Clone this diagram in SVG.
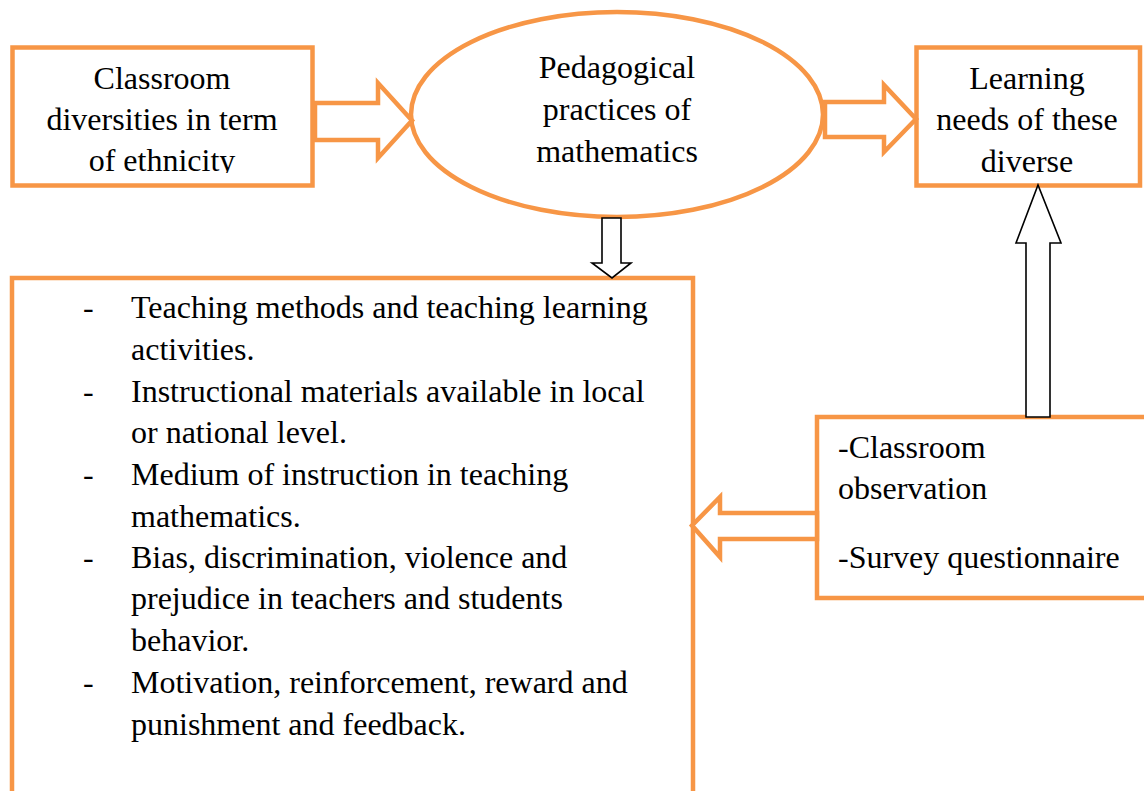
<svg xmlns="http://www.w3.org/2000/svg" width="1144" height="791" viewBox="0 0 1144 791">
  <style>
    .box { fill: #ffffff; stroke: #F79646; stroke-width: 4.5; }
    .orange-arrow { fill: #ffffff; stroke: #F79646; stroke-width: 4.5; stroke-linejoin: miter; }
    .black-arrow { fill: #ffffff; stroke: #000000; stroke-width: 1.6; stroke-linejoin: miter; }
    text { font-family: "Liberation Serif", "Times New Roman", serif; font-size: 32px; fill: #000000; }
    .c { text-anchor: middle; }
  </style>
  <defs>
    <clipPath id="clip-box1">
      <rect x="15" y="50" width="295" height="123"/>
    </clipPath>
  </defs>

  <rect width="1144" height="791" fill="#ffffff"/>

  <!-- Classroom diversities -->
  <g id="node-diversities">
    <rect class="box" x="12.5" y="47.5" width="300" height="138"/>
    <g clip-path="url(#clip-box1)">
      <text class="c" x="162" y="89">Classroom</text>
      <text class="c" x="162" y="130">diversities in term</text>
      <text class="c" x="162" y="171">of ethnicity</text>
    </g>
  </g>

  <!-- Pedagogical practices -->
  <g id="node-pedagogy">
    <ellipse class="box" cx="617" cy="114.5" rx="206" ry="102.5"/>
    <text class="c" x="617" y="78">Pedagogical</text>
    <text class="c" x="617" y="120">practices of</text>
    <text class="c" x="617" y="162">mathematics</text>
  </g>

  <!-- Learning needs -->
  <g id="node-learning-needs">
    <rect class="box" x="916.5" y="47.5" width="223.5" height="138"/>
    <text class="c" x="1027" y="89">Learning</text>
    <text class="c" x="1027" y="130">needs of these</text>
    <text class="c" x="1027" y="172">diverse</text>
  </g>

  <!-- Data collection methods -->
  <g id="node-methods">
    <rect class="box" x="817" y="417" width="340" height="181"/>
    <text x="838" y="458">-Classroom</text>
    <text x="838" y="499">observation</text>
    <text x="838" y="568">-Survey questionnaire</text>
  </g>

  <!-- Aspects of pedagogical practice -->
  <g id="node-aspects">
    <rect class="box" x="12" y="278" width="681" height="600"/>
    <text x="83" y="318">-</text>
    <text x="131" y="318">Teaching methods and teaching learning</text>
    <text x="131" y="360">activities.</text>
    <text x="83" y="402">-</text>
    <text x="131" y="402">Instructional materials available in local</text>
    <text x="131" y="443">or national level.</text>
    <text x="83" y="485">-</text>
    <text x="131" y="485">Medium of instruction in teaching</text>
    <text x="131" y="527">mathematics.</text>
    <text x="83" y="568">-</text>
    <text x="131" y="568">Bias, discrimination, violence and</text>
    <text x="131" y="609">prejudice in teachers and students</text>
    <text x="131" y="651">behavior.</text>
    <text x="83" y="693">-</text>
    <text x="131" y="693">Motivation, reinforcement, reward and</text>
    <text x="131" y="735">punishment and feedback.</text>
  </g>

  <!-- Block-arrow connectors, drawn over the node outlines -->
  <g id="connectors">
    <polygon class="orange-arrow" points="315,103 378,103 378,83 412,120.5 378,158 378,140 315,140"/>
    <polygon class="orange-arrow" points="825,102 884,102 884,85 916,119 884,152 884,137 825,137"/>
    <polygon class="black-arrow" points="602,218 621,218 621,263 631,263 612,278 592,263 602,263"/>
    <polygon class="black-arrow" points="1026,417 1026,243 1016,243 1038,185 1061,243 1050,243 1050,417"/>
    <polygon class="orange-arrow" points="817,513 720,513 720,497 692,525.5 720,557 720,539 817,539"/>
  </g>
</svg>
